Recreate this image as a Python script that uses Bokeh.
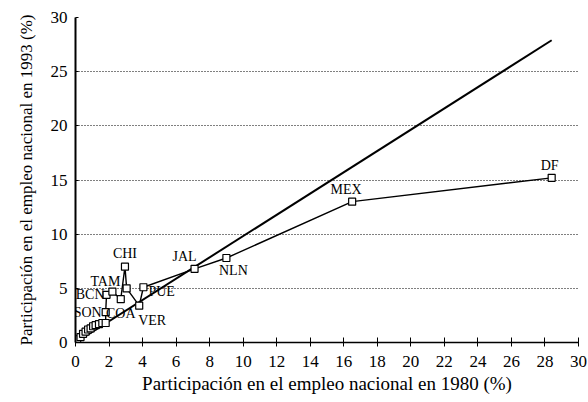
from bokeh.plotting import figure
from bokeh.models import ColumnDataSource, FixedTicker, Range1d, LabelSet
from bokeh.core.properties import value
from bokeh.embed import file_html
from bokeh.resources import INLINE

# Share of national employment (%), 1980 vs 1993, states ordered by 1980 share
x1980 = [0.1, 0.3, 0.45, 0.6, 0.75, 0.9, 1.05, 1.2, 1.4, 1.6, 1.8, 1.8, 1.85, 2.2, 2.7, 2.95, 3.05, 3.8, 4.05, 7.1, 9.0, 16.5, 28.4]
y1993 = [0.3, 0.5, 0.8, 1.0, 1.2, 1.3, 1.5, 1.6, 1.7, 1.8, 1.8, 2.8, 4.4, 4.7, 4.0, 7.0, 5.0, 3.4, 5.1, 6.8, 7.8, 13.0, 15.2]

# Labelled states: index into the arrays above
label_idx = [11, 14, 12, 13, 15, 17, 18, 19, 20, 21, 22]
label_txt = ["SON", "COA", "BCN", "TAM", "CHI", "VER", "PUE", "JAL", "NLN", "MEX", "DF"]
label_dx = [-4, 0, -2, -7, 0, 13, 5, -10, 7, -6, -2]
label_dy = [0, 14, 0, -10, -13, 15, 4, -12, 12, -12, -12]
label_align = ["right", "center", "right", "center", "center", "center", "left", "center", "center", "center", "center"]

# 45-degree reference line
diag_x = [0, 28.4]
diag_y = [0, 27.9]

x_ticks = list(range(0, 31, 2))
y_ticks = [0, 5, 10, 15, 20, 25, 30]

FONT = "Liberation Serif"

p = figure(width=588, height=400, output_backend="svg", toolbar_location=None,
           x_range=Range1d(0, 30), y_range=Range1d(0, 30),
           min_border_left=75, min_border_right=10, min_border_top=17, min_border_bottom=58)
p.outline_line_color = None
p.background_fill_color = "white"

p.line(diag_x, diag_y, line_color="black", line_width=2)
src = ColumnDataSource(dict(x=x1980, y=y1993))
p.line("x", "y", source=src, line_color="black", line_width=1.4)
p.scatter("x", "y", source=src, marker="square", size=7, fill_color="white",
          line_color="black", line_width=1.2)

lsrc = ColumnDataSource(dict(
    x=[x1980[i] for i in label_idx],
    y=[y1993[i] for i in label_idx],
    t=label_txt, dx=label_dx, dy=[-d for d in label_dy], al=label_align))
labels = LabelSet(x="x", y="y", text="t", source=lsrc, x_offset="dx", y_offset="dy",
                  text_align="al", text_baseline="middle",
                  text_font=value(FONT), text_font_size="14px", text_color="black")
p.add_layout(labels)

# grid
p.xgrid.grid_line_color = None
p.ygrid.ticker = FixedTicker(ticks=[5, 10, 15, 20, 25, 30])
p.ygrid.grid_line_color = "black"
p.ygrid.grid_line_dash = "1 2"
p.ygrid.grid_line_width = 1

# axes
p.xaxis.ticker = FixedTicker(ticks=x_ticks)
p.yaxis.ticker = FixedTicker(ticks=y_ticks)
p.xaxis.minor_tick_line_color = None
p.yaxis.minor_tick_line_color = None
p.xaxis.axis_line_width = 1.5
p.yaxis.axis_line_width = 2
p.xaxis.major_tick_in = 5
p.xaxis.major_tick_out = 4
p.yaxis.major_tick_in = 3
p.yaxis.major_tick_out = 0
p.xaxis.major_label_standoff = 9
p.yaxis.major_label_standoff = 8
for ax in (p.xaxis, p.yaxis):
    ax.major_label_text_font = FONT
    ax.major_label_text_font_size = "17px"
    ax.major_label_text_color = "black"
    ax.axis_label_text_font = FONT
    ax.axis_label_text_font_style = "normal"
    ax.axis_label_text_color = "black"
    ax.axis_line_color = "black"
    ax.major_tick_line_color = "black"
p.xaxis.axis_label_text_font_size = "19px"
p.yaxis.axis_label_text_font_size = "17px"
p.xaxis.axis_label = "Participación en el empleo nacional en 1980 (%)"
p.yaxis.axis_label = "Participación en el empleo nacional en 1993 (%)"
p.xaxis.axis_label_standoff = 3
p.yaxis.axis_label_standoff = 12

open("out.html", "w").write(file_html(p, INLINE))
